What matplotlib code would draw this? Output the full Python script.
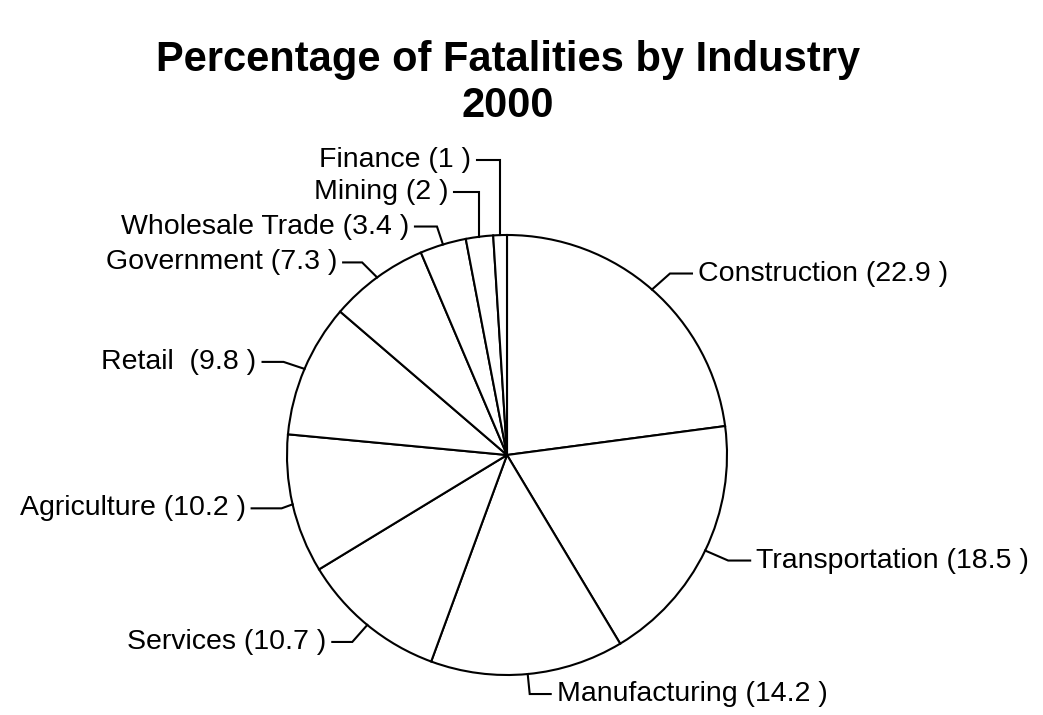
import matplotlib
matplotlib.use("Agg")
import matplotlib.pyplot as plt
import numpy as np

# Data
industries = ["Construction", "Transportation", "Manufacturing", "Services",
              "Agriculture", "Retail ", "Government", "Wholesale Trade",
              "Mining", "Finance"]
percentages = [22.9, 18.5, 14.2, 10.7, 10.2, 9.8, 7.3, 3.4, 2, 1]
title_lines = ["Percentage of Fatalities by Industry", "2000"]

# Layout of leader lines (pixel offsets: elbow from edge, then horizontal run)
elbow_dx = [18, 23, 2, -15, -11, -21, -15, -6, 0, 0]
elbow_dy = [-16, 10, 20, 17, 4, -7, -15, -18, -45, -75]
run = [22, 22, 21, -20, -30, -21, -19, -22, -25, -23]

W, H = 1043, 715
fig = plt.figure(figsize=(W / 100, H / 100), dpi=100)
ax = fig.add_axes([0, 0, 1, 1])
ax.set_xlim(0, W)
ax.set_ylim(0, H)
ax.set_aspect("equal")
ax.axis("off")

cx, cy, r = 507, H - 455, 220
wedges, _ = ax.pie(percentages, startangle=90, counterclock=False,
                   center=(cx, cy), radius=r, frame=True,
                   wedgeprops=dict(facecolor="white", edgecolor="black", linewidth=1.5))
ax.set_xlim(0, W)
ax.set_ylim(0, H)
ax.axis("off")

fam = ['Liberation Sans', 'DejaVu Sans']
plt.rcParams['font.family'] = fam

for w, name, val, ex, ey, rn in zip(wedges, industries, percentages, elbow_dx, elbow_dy, run):
    ang = np.deg2rad((w.theta1 + w.theta2) / 2)
    x0 = cx + r * np.cos(ang)
    y0 = cy + r * np.sin(ang)
    x1 = x0 + ex
    y1 = y0 - ey
    x2 = x1 + rn
    ax.plot([x0, x1, x2], [y0, y1, y1], color="black", lw=1.5, solid_joinstyle="miter")
    label = f"{name} ({val:g} )"
    if rn > 0:
        ax.text(x2 + 6, y1, label, ha="left", va="center", fontsize=20.5, family=fam)
    else:
        ax.text(x2 - 6, y1, label, ha="right", va="center", fontsize=20.5, family=fam)

fig.text(508 / W, 1 - 60 / H, title_lines[0], ha="center", va="center",
         fontsize=30, fontweight="bold", family=fam)
fig.text(508 / W, 1 - 106 / H, title_lines[1], ha="center", va="center",
         fontsize=30, fontweight="bold", family=fam)

fig.savefig("out.png", dpi=100, facecolor="white")
